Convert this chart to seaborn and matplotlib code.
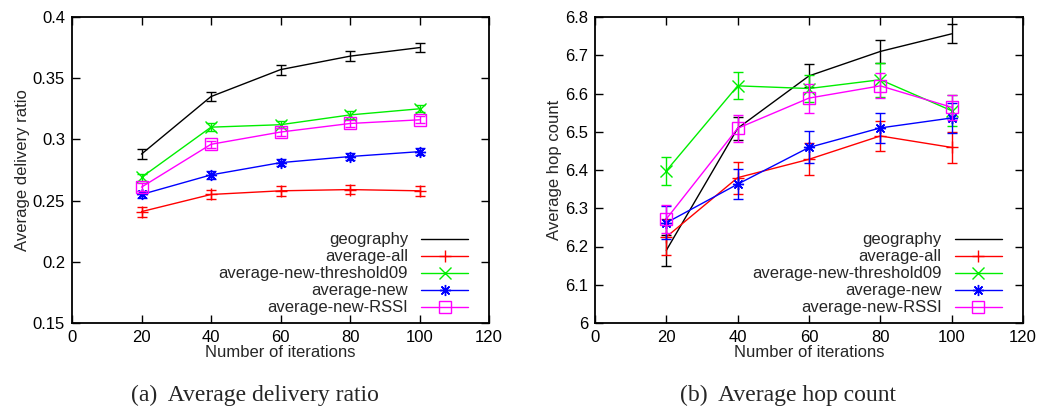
import matplotlib
matplotlib.use("Agg")
import matplotlib.pyplot as plt
import seaborn as sns
import numpy as np

sns.set_theme(style="white")
plt.rcParams['font.family'] = ['Liberation Sans', 'DejaVu Sans']

iterations = [20, 40, 60, 80, 100]
series_names = ["geography", "average-all", "average-new-threshold09",
                "average-new", "average-new-RSSI"]

# (a) Average delivery ratio
ratio_geography = [0.288, 0.335, 0.357, 0.368, 0.375]
ratio_all = [0.241, 0.255, 0.258, 0.259, 0.258]
ratio_thr09 = [0.269, 0.310, 0.312, 0.320, 0.325]
ratio_new = [0.255, 0.271, 0.281, 0.286, 0.290]
ratio_rssi = [0.261, 0.296, 0.306, 0.313, 0.316]
ratio_err_geography = [0.004, 0.004, 0.004, 0.004, 0.004]
ratio_err_all = [0.004, 0.004, 0.004, 0.004, 0.004]
ratio_err_thr09 = [0.003, 0.003, 0.003, 0.003, 0.003]
ratio_err_new = [0.003, 0.003, 0.003, 0.003, 0.003]
ratio_err_rssi = [0.003, 0.003, 0.003, 0.003, 0.003]

# (b) Average hop count
hop_geography = [6.190, 6.509, 6.646, 6.710, 6.756]
hop_all = [6.225, 6.380, 6.428, 6.489, 6.459]
hop_thr09 = [6.398, 6.620, 6.613, 6.636, 6.555]
hop_new = [6.262, 6.363, 6.459, 6.510, 6.536]
hop_rssi = [6.272, 6.509, 6.588, 6.620, 6.564]
hop_err_geography = [0.040, 0.030, 0.030, 0.030, 0.025]
hop_err_all = [0.047, 0.042, 0.042, 0.039, 0.041]
hop_err_thr09 = [0.037, 0.035, 0.036, 0.045, 0.040]
hop_err_new = [0.043, 0.040, 0.042, 0.040, 0.040]
hop_err_rssi = [0.036, 0.035, 0.038, 0.033, 0.033]

colors = ["#000000", "#ff0000", "#00ee00", "#0000ff", "#ff00ff"]
markers = [None, "+", "x", (8, 2, 0), "s"]

fig = plt.figure(figsize=(10.43, 4.08), dpi=100)
axL = fig.add_axes([72/1043, 85/408, 417/1043, 306/408])
axR = fig.add_axes([595/1043, 85/408, 428/1043, 306/408])

def draw(ax, ys, errs, ylim, yticks, yticklabels, ylabel):
    for name, y, e, c, m in zip(series_names, ys, errs, colors, markers):
        kw = dict(markersize=8, markeredgewidth=1.0, markeredgecolor=c)
        if m == "s":
            kw.update(markerfacecolor="none")
        sns.lineplot(x=iterations, y=y, ax=ax, color=c, marker=m if m is not None else "",
                     linewidth=1.0, label=name, **kw)
        ax.errorbar(iterations, y, yerr=e, fmt="none", ecolor=c, elinewidth=1.0,
                    capsize=3.5, capthick=1.0)
    ax.set_xlim(0, 120)
    ax.set_ylim(*ylim)
    ax.set_xticks([0, 20, 40, 60, 80, 100, 120])
    ax.set_yticks(yticks)
    ax.set_yticklabels(yticklabels)
    ax.tick_params(direction="in", length=6, width=1, top=True, right=True,
                   bottom=True, left=True, labelsize=12, colors="black", pad=5)
    for s in ax.spines.values():
        s.set_color("black")
        s.set_linewidth(1.3)
    ax.set_xlabel("Number of iterations", fontsize=12, labelpad=0)
    ax.set_ylabel(ylabel, fontsize=12, labelpad=2)
    ax.legend(loc="lower right", bbox_to_anchor=(0.95, 0.025), markerfirst=False,
              frameon=False, fontsize=12, handlelength=2.8, labelspacing=0.12,
              borderaxespad=0, borderpad=0, handletextpad=0.8, numpoints=1)

draw(axL, [ratio_geography, ratio_all, ratio_thr09, ratio_new, ratio_rssi],
     [ratio_err_geography, ratio_err_all, ratio_err_thr09, ratio_err_new, ratio_err_rssi],
     (0.15, 0.4), [0.15, 0.2, 0.25, 0.3, 0.35, 0.4],
     ["0.15", "0.2", "0.25", "0.3", "0.35", "0.4"], "Average delivery ratio")

draw(axR, [hop_geography, hop_all, hop_thr09, hop_new, hop_rssi],
     [hop_err_geography, hop_err_all, hop_err_thr09, hop_err_new, hop_err_rssi],
     (6.0, 6.8), [6.0, 6.1, 6.2, 6.3, 6.4, 6.5, 6.6, 6.7, 6.8],
     ["6", "6.1", "6.2", "6.3", "6.4", "6.5", "6.6", "6.7", "6.8"], "Average hop count")

fig.text(255/1043, 1 - 395/408, "(a)  Average delivery ratio", ha="center", va="center",
         fontsize=17, family="Liberation Serif")
fig.text(788/1043, 1 - 395/408, "(b)  Average hop count", ha="center", va="center",
         fontsize=17, family="Liberation Serif")

fig.savefig("out.png", dpi=100)
